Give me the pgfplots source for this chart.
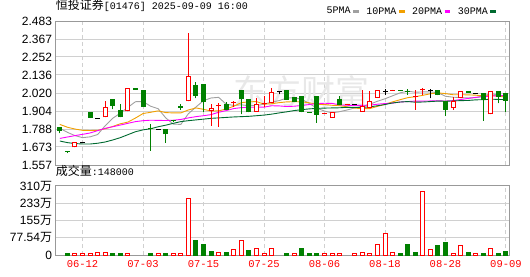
\documentclass[border=0pt]{standalone}
\usepackage{pgfplots}
\pgfplotsset{compat=1.18}
\usepackage{pgfplotstable}
\usepackage{fontspec}
\setmainfont{Liberation Sans}
\newfontfamily\cjk{Noto Sans CJK SC}
\newfontfamily\mono{Liberation Mono}
\definecolor{cred}{HTML}{FF0000}
\definecolor{cgreen}{HTML}{008000}
\definecolor{mafive}{HTML}{A0A0A0}
\definecolor{maten}{HTML}{F2A000}
\definecolor{matwenty}{HTML}{FF00FF}
\definecolor{mathirty}{HTML}{006A30}
\definecolor{gridc}{HTML}{D0D0D0}
\definecolor{framec}{HTML}{999999}

% up candles (red): j open close high low
\pgfplotstableread{
j o c h l
2 1.671 1.703 1.703 1.671
6 1.864 1.928 1.969 1.864
9 1.902 2.050 2.050 1.902
17 1.966 2.129 2.408 1.966
20 1.904 1.926 1.947 1.810
21 1.936 1.943 1.954 1.804
23 1.954 1.960 1.969 1.930
26 1.900 1.947 1.986 1.900
27 1.949 1.956 2.001 1.928
28 1.954 2.029 2.050 1.954
35 1.885 1.889 1.889 1.885
36 1.861 1.896 1.896 1.861
38 1.943 1.947 1.947 1.943
40 1.900 1.938 2.039 1.900
41 1.922 1.967 2.033 1.922
42 1.990 2.037 2.037 1.990
44 2.034 2.037 2.037 2.034
47 1.994 1.998 2.039 1.911
48 2.037 2.041 2.050 2.007
52 1.922 1.969 1.996 1.911
53 1.986 2.031 2.031 1.986
57 1.883 2.031 2.031 1.883
}\upc
% down candles (green)
\pgfplotstableread{
j o c h l
0 1.799 1.778 1.803 1.761
1 1.647 1.643 1.647 1.634
4 1.896 1.861 1.896 1.861
7 1.981 1.939 1.981 1.915
8 1.911 1.864 1.949 1.864
10 2.052 2.041 2.052 2.041
11 2.039 1.932 2.039 1.932
12 1.791 1.787 1.819 1.649
14 1.789 1.754 1.789 1.701
15 1.846 1.840 1.849 1.836
16 1.936 1.924 1.949 1.911
18 2.071 2.001 2.093 1.986
19 2.076 1.960 2.076 1.900
22 1.947 1.911 1.960 1.911
24 2.039 1.981 2.039 1.883
25 1.981 1.896 1.981 1.896
30 2.039 1.975 2.039 1.975
31 1.994 1.960 1.994 1.960
32 2.001 1.900 2.001 1.896
33 1.898 1.894 1.898 1.894
34 2.000 1.879 2.000 1.829
37 1.981 1.943 2.001 1.943
45 2.037 2.033 2.037 2.033
46 2.033 2.025 2.044 2.009
50 2.037 2.007 2.037 2.007
51 1.969 1.911 1.969 1.872
54 2.031 2.022 2.031 2.022
56 2.018 1.975 2.018 1.840
58 2.031 1.996 2.031 1.954
59 2.018 1.969 2.018 1.900
}\downc
% unchanged candles (black)
\pgfplotstableread{
j o c h l
3 1.703 1.703 1.703 1.703
5 1.857 1.857 1.857 1.857
13 1.786 1.786 1.786 1.786
29 2.029 2.029 2.029 2.011
39 1.945 1.945 1.945 1.945
43 2.030 2.030 2.046 2.007
49 2.039 2.039 2.044 1.986
55 2.018 2.018 2.018 2.018
}\flatc
% moving averages
\pgfplotstableread{
j m5 m10 m20 m30
0 1.793 1.818 1.728 1.711
1 1.767 1.800 1.737 1.701
2 1.746 1.788 1.746 1.695
3 1.733 1.780 1.754 1.692
4 1.738 1.779 1.763 1.692
5 1.753 1.780 1.778 1.697
6 1.810 1.790 1.793 1.705
7 1.858 1.805 1.803 1.718
8 1.890 1.822 1.814 1.733
9 1.928 1.833 1.825 1.752
10 1.964 1.859 1.836 1.771
11 1.965 1.888 1.842 1.783
12 1.935 1.896 1.845 1.790
13 1.919 1.905 1.844 1.803
14 1.860 1.894 1.843 1.813
15 1.820 1.892 1.845 1.825
16 1.818 1.892 1.850 1.836
17 1.887 1.911 1.860 1.842
18 1.930 1.924 1.868 1.847
19 1.971 1.915 1.874 1.852
20 1.988 1.904 1.881 1.857
21 1.992 1.905 1.896 1.860
22 1.948 1.917 1.907 1.863
23 1.940 1.935 1.920 1.866
24 1.944 1.958 1.926 1.868
25 1.938 1.963 1.928 1.870
26 1.939 1.965 1.929 1.874
27 1.948 1.948 1.929 1.878
28 1.962 1.951 1.938 1.884
29 1.971 1.958 1.937 1.892
30 1.987 1.963 1.933 1.899
31 1.990 1.964 1.935 1.907
32 1.979 1.963 1.940 1.913
33 1.952 1.957 1.946 1.918
34 1.922 1.947 1.952 1.921
35 1.904 1.946 1.954 1.923
36 1.892 1.941 1.953 1.924
37 1.900 1.939 1.944 1.925
38 1.911 1.931 1.941 1.928
39 1.924 1.923 1.940 1.928
40 1.934 1.919 1.941 1.928
41 1.948 1.920 1.942 1.931
42 1.967 1.934 1.948 1.938
43 1.983 1.947 1.952 1.946
44 2.002 1.963 1.955 1.956
45 2.021 1.977 1.962 1.962
46 2.032 1.990 1.965 1.965
47 2.025 1.996 1.968 1.961
48 2.027 2.005 1.968 1.962
49 2.027 2.015 1.969 1.965
50 2.022 2.021 1.970 1.968
51 1.999 2.016 1.968 1.967
52 1.993 2.009 1.971 1.969
53 1.991 2.009 1.978 1.971
54 1.988 2.008 1.985 1.972
55 1.990 2.006 1.992 1.976
56 2.003 2.001 1.996 1.977
57 2.015 2.004 2.000 1.980
58 2.008 2.000 2.003 1.979
59 1.998 1.993 2.004 1.977
}\matab
% volume, in units of 10^4 shares
\pgfplotstableread{
j v
2 4.5
3 4.5
4 4.5
5 9
6 9
9 4.5
13 4.5
15 4.5
16 4.5
17 254.7
21 9
23 22.5
24 65.9
26 30
27 4.5
28 30
31 4.5
35 4.5
36 4.5
37 4.5
39 4.5
40 9
41 4.5
42 45
43 97.4
44 12
48 285
49 25.5
52 4.5
53 43.5
55 4.5
57 30
}\volr
\pgfplotstableread{
j v
1 4.5
7 4.5
8 4.5
12 4.5
14 4.5
18 67.4
19 49.4
20 13.5
22 9
25 18
30 4.5
32 31
33 4.5
34 4.5
45 4.5
46 49.4
47 9
50 43.5
51 54
54 9
56 4.5
58 4.5
59 14.8
}\volg

\pgfplotsset{
  kframe/.style={
    scale only axis, width=453.3pt,
    xmin=-0.55, xmax=59.4,
    axis line style={framec, line width=1pt},
    xtick={3,11,19,27,35,43,51,59},
    major tick length=0pt,
    xmajorgrids, ymajorgrids,
    x grid style={gridc, line width=1pt, dash pattern=on 4pt off 3pt},
    y grid style={gridc, line width=1pt},
    yticklabel style={font=\fontsize{12}{12}\selectfont, inner sep=0pt, xshift=-3.5pt},
  },
  nomk/.style={only marks, mark=*, mark size=0pt, mark options={draw=none, fill=none}, forget plot},
  wick/.style={nomk,
    error bars/.cd, y dir=plus, y explicit, error mark=none,
    error bar style={line width=1pt, draw=#1}},
  body/.style={nomk,
    error bars/.cd, y dir=plus, y explicit, error mark=none,
    error bar style={line width=5pt, draw=#1}},
}

\begin{document}
\begin{tikzpicture}
\path[use as bounding box] (0pt,0pt) rectangle (530pt,276pt);
% price panel
\begin{axis}[
  kframe,
  at={(55.7pt,111pt)}, anchor=south west, height=144pt,
  ymin=1.557, ymax=2.483,
  xticklabels={},
  ytick={1.557,1.673,1.788,1.904,2.020,2.136,2.252,2.367,2.483},
  yticklabels={1.557,1.673,1.788,1.904,2.020,2.136,2.252,2.367,2.483},
  title={{\cjk\fontsize{12}{12}\selectfont 恒投证券}{\mono\fontsize{10}{10}\selectfont [01476] 2025-09-09 16:00}},
  title style={at={(0,1)}, anchor=base west, yshift=5.8pt, inner sep=0pt},
  legend plot pos=right,
  legend columns=-1,
  legend image code/.code={\draw[#1, line width=3pt] (0pt,0pt) -- (5.7pt,0pt);},
  legend style={at={(1,1)}, anchor=south east, xshift=-11.5pt, yshift=4.5pt,
    draw=none, fill=none, inner sep=0pt, outer sep=0pt,
    font=\mono\fontsize{10}{10}\selectfont,
    nodes={inner xsep=1pt, inner ysep=1pt},
    /tikz/every even column/.append style={column sep=5pt}},
]
\node[text=black!9, font=\cjk\fontsize{34}{34}\selectfont] at (axis cs:32,2.03) {东方财富};
\addplot[mafive, line width=0.9pt] table[x=j, y=m5] {\matab};
\addlegendentry{5PMA}
\addplot[maten, line width=0.9pt] table[x=j, y=m10] {\matab};
\addlegendentry{10PMA}
\addplot[matwenty, line width=0.9pt] table[x=j, y=m20] {\matab};
\addlegendentry{20PMA}
\addplot[mathirty, line width=0.9pt] table[x=j, y=m30] {\matab};
\addlegendentry{30PMA}
% wicks
\addplot[wick=cred] table[x=j, y=l, y error plus expr={\thisrow{h}-\thisrow{l}}] {\upc};
\addplot[wick=cgreen] table[x=j, y=l, y error plus expr={\thisrow{h}-\thisrow{l}}] {\downc};
\addplot[wick=black] table[x=j, y=l, y error plus expr={\thisrow{h}-\thisrow{l}}] {\flatc};
% bodies
\addplot[body=cgreen] table[x=j, y=c, y error plus expr={max(\thisrow{o}-\thisrow{c},0.0065)}] {\downc};
\addplot[body=cred] table[x=j, y=o, y error plus expr={max(\thisrow{c}-\thisrow{o},0.0065)}] {\upc};
\addplot[nomk, error bars/.cd, y dir=plus, y explicit, error mark=none,
  error bar style={line width=3pt, draw=white}]
  table[x=j, y expr={\thisrow{o}+0.0064}, y error plus expr={max(\thisrow{c}-\thisrow{o}-0.0128,0)}] {\upc};
\addplot[body=black] table[x=j, y expr={\thisrow{o}-0.00325}, y error plus expr={0.0065}] {\flatc};
\end{axis}
% volume panel
\begin{axis}[
  kframe,
  at={(55.7pt,21pt)}, anchor=south west, height=69pt,
  ymin=0, ymax=310.16,
  ytick={0,77.54,155.08,232.62,310.16},
  yticklabels={0,77.54{\cjk 万},155{\cjk 万},233{\cjk 万},310{\cjk 万}},
  xticklabels={06-12,07-03,07-15,07-25,08-06,08-18,08-28,09-09},
  xticklabel style={font=\mono\fontsize{10.5}{10.5}\selectfont, text=cred, inner sep=0pt, yshift=-5pt},
  title={{\cjk\fontsize{12}{12}\selectfont 成交量}{\mono\fontsize{10}{10}\selectfont :148000}},
  title style={at={(0,1)}, anchor=base west, yshift=4.5pt, inner sep=0pt},
]
\addplot[ybar, bar width=4pt, bar shift=0pt, draw=cred, fill=white, line width=1pt] table[x=j, y=v] {\volr};
\addplot[ybar, bar width=4pt, bar shift=0pt, draw=cgreen, fill=cgreen, line width=1pt] table[x=j, y=v] {\volg};
\end{axis}
\end{tikzpicture}
\end{document}
